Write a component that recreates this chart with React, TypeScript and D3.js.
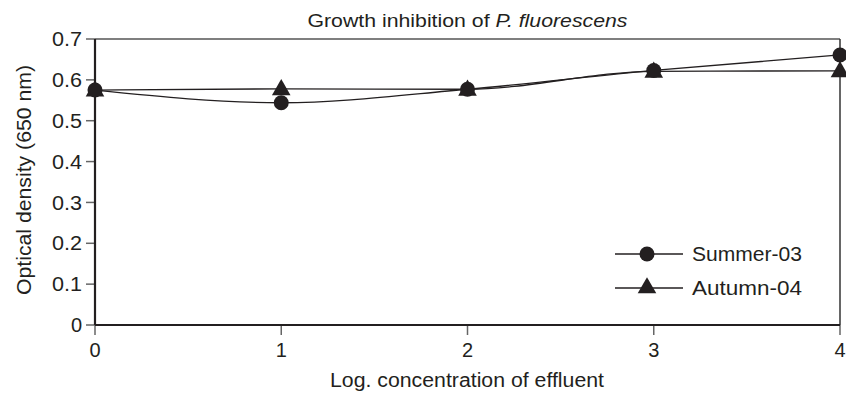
import * as d3 from 'd3';

const xTicks = [0, 1, 2, 3, 4];
const yTicks = [0, 0.1, 0.2, 0.3, 0.4, 0.5, 0.6, 0.7];
const concentrations = [0, 1, 2, 3, 4];
const summer03 = [0.575, 0.544, 0.577, 0.623, 0.661];
const autumn04 = [0.575, 0.578, 0.577, 0.621, 0.622];
const seriesNames = ['Summer-03', 'Autumn-04'];

const W = 846;
const H = 393;
const margin = { left: 95, right: 6, top: 39, bottom: 68 };
const font = '"Liberation Sans", Arial, Helvetica, sans-serif';
const ink = '#231f20';

export default function App() {
  const x = d3.scaleLinear().domain([0, 4]).range([margin.left, W - margin.right]);
  const y = d3.scaleLinear().domain([0, 0.7]).range([H - margin.bottom, margin.top]);

  const line = d3
    .line<number>()
    .x((_, i) => x(concentrations[i]))
    .y(d => y(d))
    .curve(d3.curveMonotoneX);

  const tri = d3.symbol(d3.symbolTriangle, 150)()!;

  const x0 = x(0), x1 = x(4), y0 = y(0), y1 = y(0.7);

  // legend
  const legX = 615, legW = 68, legRows = [254, 288];

  return (
    <svg width={W} height={H} style={{ position: 'absolute', left: 0, top: 0, background: '#fff' }}
      fontFamily={font}>
      {/* title */}
      <text x={(x0 + x1) / 2} y={27} textAnchor="middle" fontSize={18} fill={ink}
        textLength={320} lengthAdjust="spacingAndGlyphs">
        Growth inhibition of <tspan fontStyle="italic">P. fluorescens</tspan>
      </text>

      {/* frame */}
      <line x1={x0} x2={x1} y1={y1} y2={y1} stroke="#555" strokeWidth={1.5} />
      <line x1={x1} x2={x1} y1={y1} y2={y0} stroke="#333" strokeWidth={1.5} />

      {/* y ticks */}
      {yTicks.map(t => (
        <g key={t}>
          <line x1={x0 - 9} x2={x0} y1={y(t)} y2={y(t)} stroke="#666" strokeWidth={1.5} />
          <text x={82} y={y(t)} dy="0.36em" textAnchor="end" fontSize={20} fill={ink}
            textLength={t === 0 ? undefined : 30} lengthAdjust="spacingAndGlyphs">
            {t === 0 ? '0' : d3.format('.1f')(t)}
          </text>
        </g>
      ))}

      {/* x ticks */}
      {xTicks.map(t => (
        <g key={t}>
          <line x1={x(t)} x2={x(t)} y1={y0} y2={y0 + 10} stroke="#666" strokeWidth={1.5} />
          <text x={x(t)} y={357} textAnchor="middle" fontSize={20} fill={ink}>{t}</text>
        </g>
      ))}

      {/* axes */}
      <line x1={x0} x2={x0} y1={y1} y2={y0} stroke={ink} strokeWidth={2.2} />
      <line x1={x0} x2={x1} y1={y0} y2={y0} stroke={ink} strokeWidth={2.2} />

      {/* axis labels */}
      <text x={467} y={387} textAnchor="middle" fontSize={20} fill={ink}
        textLength={274} lengthAdjust="spacingAndGlyphs">
        Log. concentration of effluent
      </text>
      <text transform="translate(31,180) rotate(-90)" textAnchor="middle" fontSize={20} fill={ink}
        textLength={230} lengthAdjust="spacingAndGlyphs">
        Optical density (650 nm)
      </text>

      {/* series */}
      <path d={line(autumn04)!} fill="none" stroke={ink} strokeWidth={1.3} />
      <path d={line(summer03)!} fill="none" stroke={ink} strokeWidth={1.3} />
      {autumn04.map((v, i) => (
        <path key={'a' + i} d={tri} transform={`translate(${x(concentrations[i])},${y(v) + 1})`} fill={ink} />
      ))}
      {summer03.map((v, i) => (
        <circle key={'s' + i} cx={x(concentrations[i])} cy={y(v)} r={7.5} fill={ink} />
      ))}

      {/* legend */}
      {seriesNames.map((name, i) => (
        <g key={name}>
          <line x1={legX} x2={legX + legW} y1={legRows[i]} y2={legRows[i]} stroke={ink} strokeWidth={1.3} />
          {i === 0
            ? <circle cx={legX + 32} cy={legRows[i]} r={7.5} fill={ink} />
            : <path d={tri} transform={`translate(${legX + 32},${legRows[i]})`} fill={ink} />}
          <text x={692} y={legRows[i]} dy="0.36em" fontSize={20} fill={ink}
            textLength={110} lengthAdjust="spacingAndGlyphs">{name}</text>
        </g>
      ))}
    </svg>
  );
}
